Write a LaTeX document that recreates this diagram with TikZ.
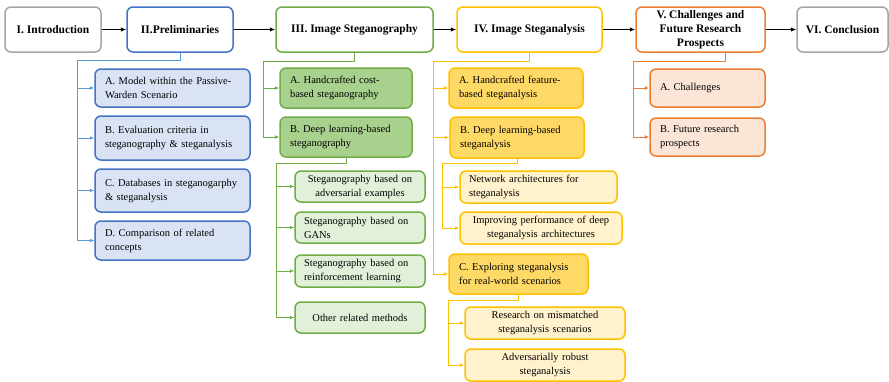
\documentclass[tikz,border=0pt]{standalone}
\usepackage{fontspec}
\setmainfont{Liberation Serif}
\usetikzlibrary{arrows.meta}

\definecolor{greyline}{HTML}{A5A5A5}
\definecolor{bline}{HTML}{4472C4}
\definecolor{bconn}{HTML}{5B9BD5}
\definecolor{bfill}{HTML}{DAE3F3}
\definecolor{gline}{HTML}{70AD47}
\definecolor{gfill}{HTML}{A9D18E}
\definecolor{gsubfill}{HTML}{E2F0D9}
\definecolor{yline}{HTML}{FFC000}
\definecolor{yfill}{HTML}{FFD966}
\definecolor{ysubfill}{HTML}{FFF2CC}
\definecolor{oline}{HTML}{ED7D31}
\definecolor{ofill}{HTML}{FBE5D6}

\begin{document}
\begin{tikzpicture}[x=1pt, y=-1pt,
	sec/.style={draw, fill=white, rounded corners=6pt, line width=1.5pt, font=\bfseries\fontsize{11.5}{14}\selectfont, align=center, minimum height=45pt, inner sep=0pt},
	box/.style={draw, rounded corners=6pt, line width=1.5pt, font=\fontsize{10.5}{14}\selectfont, inner xsep=10pt, inner ysep=0pt, align=left, minimum height=40pt},
	pbox/.style={box, draw=bline, fill=bfill, minimum width=155pt, text width=135pt},
	gbox/.style={box, draw=gline, fill=gfill, minimum width=132pt, text width=112pt},
	gsub/.style={box, draw=gline, fill=gsubfill, minimum width=130pt, text width=112pt, inner xsep=9pt, minimum height=31pt},
	ybox/.style={box, draw=yline, fill=yfill, minimum width=134pt, text width=114pt},
	ysub/.style={box, draw=yline, fill=ysubfill, minimum width=160pt, text width=142pt, inner xsep=9pt, minimum height=32pt},
	obox/.style={box, draw=oline, fill=ofill, minimum width=115pt, text width=95pt, minimum height=38pt},
	conn/.style={line width=1pt, -{Latex[length=4.5pt,width=4pt]}},
	main/.style={line width=1pt, -{Latex[length=5.5pt,width=4.5pt]}}]
	\useasboundingbox (0,0) rectangle (889,381);

	% sections
	\node[sec, draw=greyline, minimum width=96pt] (intro) at (53,29.5) {I. Introduction};
	\node[sec, draw=bline, minimum width=106pt] (pre) at (180,29.5) {II.Preliminaries};
	\node[sec, draw=gline, minimum width=157pt] (steg) at (354.5,29.5) {III. Image Steganography};
	\node[sec, draw=yline, minimum width=145pt] (ana) at (529.5,29.5) {IV. Image Steganalysis};
	\node[sec, draw=oline, minimum width=129pt] (chal) at (700.5,29.5) {V. Challenges and\\Future Research\\Prospects};
	\node[sec, draw=greyline, minimum width=91pt] (conc) at (842.5,29.5) {VI. Conclusion};

	\draw[main] (intro) -- (pre);
	\draw[main] (pre) -- (steg);
	\draw[main] (steg) -- (ana);
	\draw[main] (ana) -- (chal);
	\draw[main] (chal) -- (conc);

	% II
	\node[pbox, minimum height=38pt] (pa) at (172.5,88) {A. Model within the Passive-\\Warden Scenario};
	\node[pbox, minimum height=44pt] (pb) at (172.5,138) {B. Evaluation criteria in\\steganography \& steganalysis};
	\node[pbox, minimum height=43pt] (pc) at (172.5,190.5) {C. Databases in steganogarphy\\\& steganalysis};
	\node[pbox, minimum height=39pt] (pd) at (172.5,240.5) {D. Comparison of related\\concepts};

	\coordinate (pj) at (77,60);
	\draw[conn, bconn] (pre.south) |- (pj) |- (pd.west);
	\foreach \n in {pa,pb,pc}
		\draw[conn, bconn] (pj |- \n.west) -- (\n.west);

	% III
	\node[gbox] (ga) at (346,88) {A. Handcrafted cost-\\based steganography};
	\node[gbox] (gb) at (346,137) {B. Deep learning-based\\steganography};
	\node[gsub, align=center] (g1) at (360,186.5) {Steganography based on\\adversarial examples};
	\node[gsub] (g2) at (360,227.5) {Steganography based on\\GANs};
	\node[gsub, minimum height=32pt] (g3) at (360,271) {Steganography based on\\reinforcement learning};
	\node[gsub, align=center] (g4) at (360,317.5) {Other related methods};

	\coordinate (gj) at (263,61);
	\draw[conn, gline] (steg.south) |- (gj) |- (gb.west);
	\draw[conn, gline] (gj |- ga.west) -- (ga.west);

	\coordinate (gk) at (276,163);
	\draw[conn, gline] (gb.south) |- (gk) |- (g4.west);
	\foreach \n in {g1,g2,g3}
		\draw[conn, gline] (gk |- \n.west) -- (\n.west);

	% IV
	\node[ybox, minimum width=132pt] (ya) at (516,88) {A. Handcrafted feature-\\based steganalysis};
	\node[ybox, minimum height=41pt] (yb) at (517,137.5) {B. Deep learning-based\\steganalysis};
	\node[ysub, minimum width=157pt, text width=139pt] (y1) at (538.5,187) {Network architectures for\\steganalysis};
	\node[ysub, minimum width=162pt, text width=144pt, align=center] (y2) at (541,228) {Improving performance of deep\\steganalysis architectures};
	\node[ybox, minimum width=139pt, text width=119pt] (yc) at (518.5,274) {C. Exploring steganalysis\\for real-world scenarios};
	\node[ysub, align=center] (y3) at (545,323) {Research on mismatched\\steganalysis scenarios};
	\node[ysub, align=center] (y4) at (545,365) {Adversarially robust\\steganalysis};

	\coordinate (yj) at (433,61);
	\draw[conn, yline] (ana.south) |- (yj) |- (yc.west);
	\foreach \n in {ya,yb}
		\draw[conn, yline] (yj |- \n.west) -- (\n.west);

	\coordinate (yk) at (442,163);
	\draw[conn, yline] (yb.south) |- (yk) |- (y2.west);
	\draw[conn, yline] (yk |- y1.west) -- (y1.west);

	\coordinate (yl) at (448,300);
	\draw[conn, yline] (yc.south) |- (yl) |- (y4.west);
	\draw[conn, yline] (yl |- y3.west) -- (y3.west);

	% V
	\node[obox] (oa) at (707.5,88) {A. Challenges};
	\node[obox] (ob) at (707.5,137) {B. Future research\\prospects};

	\coordinate (oj) at (633,61);
	\draw[conn, oline] ([xshift=24.5pt]chal.south) |- (oj) |- (ob.west);
	\draw[conn, oline] (oj |- oa.west) -- (oa.west);
\end{tikzpicture}
\end{document}
